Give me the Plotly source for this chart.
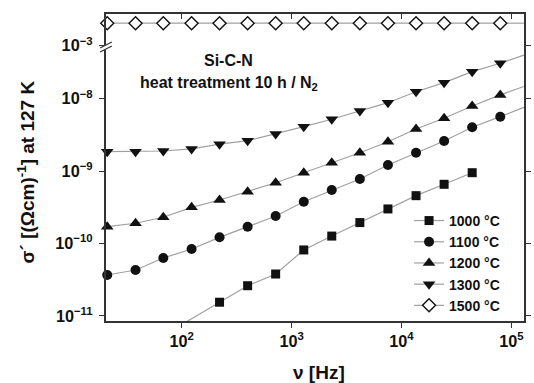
import plotly.graph_objects as go

# Measurement frequencies (Hz)
freq = [21, 38, 68, 123, 221, 398, 716, 1290, 2320, 4180, 7530, 13570, 24430, 44000, 79250]

# Real part of the ac conductivity at 127 K, (Ohm cm)^-1
freq_1000 = [221, 398, 716, 1290, 2320, 4180, 7530, 13570, 24430, 44000]
sig_1000 = [1.55e-11, 2.62e-11, 3.80e-11, 8.17e-11, 1.27e-10, 1.95e-10, 3.01e-10, 4.59e-10, 6.59e-10, 9.53e-10]
sig_1100 = [3.68e-11, 4.32e-11, 6.32e-11, 8.41e-11, 1.22e-10, 1.71e-10, 2.40e-10, 3.79e-10,
            5.50e-10, 7.80e-10, 1.22e-9, 1.80e-9, 2.61e-9, 4.04e-9, 5.66e-9]
sig_1200 = [1.71e-10, 1.91e-10, 2.31e-10, 3.17e-10, 4.00e-10, 5.21e-10, 6.93e-10, 9.53e-10,
            1.31e-9, 1.80e-9, 2.55e-9, 3.83e-9, 5.38e-9, 7.96e-9, 1.13e-8]
sig_1300 = [1.86e-9, 1.86e-9, 1.90e-9, 2.03e-9, 2.36e-9, 2.64e-9, 3.27e-9, 4.12e-9,
            5.21e-9, 6.78e-9, 8.83e-9, 1.25e-8, 1.67e-8, 2.37e-8, 3.09e-8]
sig_1500 = [2.06e-3, 2.06e-3, 2.06e-3, 2.06e-3, 2.06e-3, 2.06e-3, 2.06e-3, 2.06e-3,
            2.06e-3, 2.06e-3, 2.06e-3, 2.06e-3, 2.06e-3, 2.06e-3, 2.06e-3]

# Guide-line continuations beyond the measured range
tail_lo_f_1000 = [100, 221]
tail_lo_1000 = [7.6e-12, 1.55e-11]
tail_hi_f = [79250, 130000]
tail_hi_1100 = [5.66e-9, 7.6e-9]
tail_hi_1200 = [1.13e-8, 1.48e-8]
tail_hi_1300 = [3.09e-8, 4.0e-8]
tail_hi_1500 = [2.06e-3, 2.06e-3]

labels = ["1000 °C", "1100 °C", "1200 °C", "1300 °C", "1500 °C"]

INK = "#111111"
AXIS = "#333333"
GUIDE = "#a0a0a0"
FONT = "Liberation Sans"

X_RANGE = [1.311, 5.115]
Y_RANGE = [-11.069, -7.271]
Y2_RANGE = [-3.005, -2.558]
BREAK = 0.8958

fig = go.Figure()

# name, x, y, symbol, size, fill, axes
series = [
    (labels[0], freq_1000, sig_1000, "square", 9, INK, "x", "y"),
    (labels[1], freq, sig_1100, "circle", 10, INK, "x", "y"),
    (labels[2], freq, sig_1200, "triangle-up", 11, INK, "x", "y"),
    (labels[3], freq, sig_1300, "triangle-down", 11, INK, "x", "y"),
    (labels[4], freq, sig_1500, "diamond", 10, "white", "x2", "y2"),
]

tails = [
    (tail_lo_f_1000, tail_lo_1000, "x", "y"),
    (tail_hi_f, tail_hi_1100, "x", "y"),
    (tail_hi_f, tail_hi_1200, "x", "y"),
    (tail_hi_f, tail_hi_1300, "x", "y"),
    (tail_hi_f, tail_hi_1500, "x2", "y2"),
]

for tx, ty, xa, ya in tails:
    fig.add_trace(go.Scatter(x=tx, y=ty, mode="lines", xaxis=xa, yaxis=ya,
                             line=dict(color=GUIDE, width=1.2),
                             showlegend=False, hoverinfo="skip"))

for name, fx, fy, sym, size, fill, xa, ya in series:
    hollow = fill != INK
    fig.add_trace(go.Scatter(
        x=fx, y=fy, name=name, mode="lines+markers", xaxis=xa, yaxis=ya,
        line=dict(color=GUIDE, width=1.2),
        marker=dict(symbol=sym, size=size, color=fill,
                    line=dict(color=INK, width=1.4 if hollow else 0)),
        cliponaxis=False,
    ))


def minor_ticks(lo_exp, hi_exp):
    """Intermediate log tick positions 2..9 x 10^k."""
    return [m * 10.0 ** k for k in range(lo_exp, hi_exp + 1) for m in range(2, 10)]


tickfont = dict(family=FONT, size=13, color=INK, weight="bold")
common = dict(type="log", showline=True, linecolor=AXIS, linewidth=1.5,
              ticks="outside", ticklen=5, tickwidth=1.2, tickcolor=AXIS,
              dtick=1, exponentformat="power", showgrid=False, zeroline=False,
              tickfont=tickfont)
minor_axis = dict(type="log", showline=False, showgrid=False, zeroline=False,
                  showticklabels=False, ticklen=3, tickwidth=1, tickcolor=AXIS,
                  tickmode="array")

fig.update_layout(
    width=534, height=383,
    margin=dict(l=106, r=3, t=14, b=62),
    paper_bgcolor="white", plot_bgcolor="white",
    xaxis=dict(common, range=X_RANGE, anchor="y"),
    xaxis2=dict(common, range=X_RANGE, matches="x", anchor="y2", side="top",
                showticklabels=False, ticks="inside"),
    yaxis=dict(common, range=Y_RANGE, domain=[0, BREAK], anchor="x",
               mirror="ticks", ticklabelstandoff=4),
    yaxis2=dict(common, range=Y2_RANGE, domain=[BREAK, 1], anchor="x2",
                mirror="ticks", ticklabelstandoff=4),
    # minor-tick axes
    xaxis3=dict(minor_axis, range=X_RANGE, overlaying="x", anchor="y", side="bottom",
                ticks="outside", tickvals=minor_ticks(1, 5)),
    xaxis4=dict(minor_axis, range=X_RANGE, overlaying="x", anchor="y2", side="top",
                ticks="inside", tickvals=minor_ticks(1, 5)),
    yaxis3=dict(minor_axis, range=Y_RANGE, overlaying="y", anchor="x", side="left",
                ticks="outside", mirror="ticks", tickvals=minor_ticks(-12, -8)),
    showlegend=True,
    legend=dict(x=0.725, y=0.378, xanchor="left", yanchor="top",
                bgcolor="rgba(0,0,0,0)", font=dict(family=FONT, size=14, color=INK, weight="bold"),
                traceorder="normal", tracegroupgap=0, itemwidth=30),
    font=dict(family=FONT, color=INK),
)

# Axis break marks on the left spine
fig.add_shape(type="line", xref="paper", yref="paper", x0=-0.0141, y0=0.8827, x1=0.0141, y1=0.9023,
              line=dict(color="white", width=4))
for dy in (0.0, -0.0130):
    fig.add_shape(type="line", xref="paper", yref="paper",
                  x0=-0.0141, y0=0.8893 + dy, x1=0.0141, y1=0.9088 + dy,
                  line=dict(color=AXIS, width=1.3))

label_font = dict(family=FONT, size=16, color=INK, weight="bold")
title_font = dict(family=FONT, size=19, color=INK, weight="bold")

fig.add_annotation(text="Si-C-N", xref="paper", yref="paper", x=0.294, y=0.847,
                   xanchor="center", yanchor="middle", showarrow=False, font=label_font)
fig.add_annotation(text="heat treatment 10 h / N<sub>2</sub>", xref="paper", yref="paper",
                   x=0.295, y=0.775, xanchor="center", yanchor="middle",
                   showarrow=False, font=label_font)
fig.add_annotation(text="σ´ [(Ωcm)<sup>-1</sup>] at 127 K", xref="paper", yref="paper",
                   x=-0.1906, y=0.485, xanchor="center", yanchor="middle",
                   textangle=-90, showarrow=False, font=title_font)
fig.add_annotation(text="ν [Hz]", xref="paper", yref="paper", x=0.51, y=-0.169,
                   xanchor="center", yanchor="middle", showarrow=False, font=title_font)

fig.write_html("out.html")
